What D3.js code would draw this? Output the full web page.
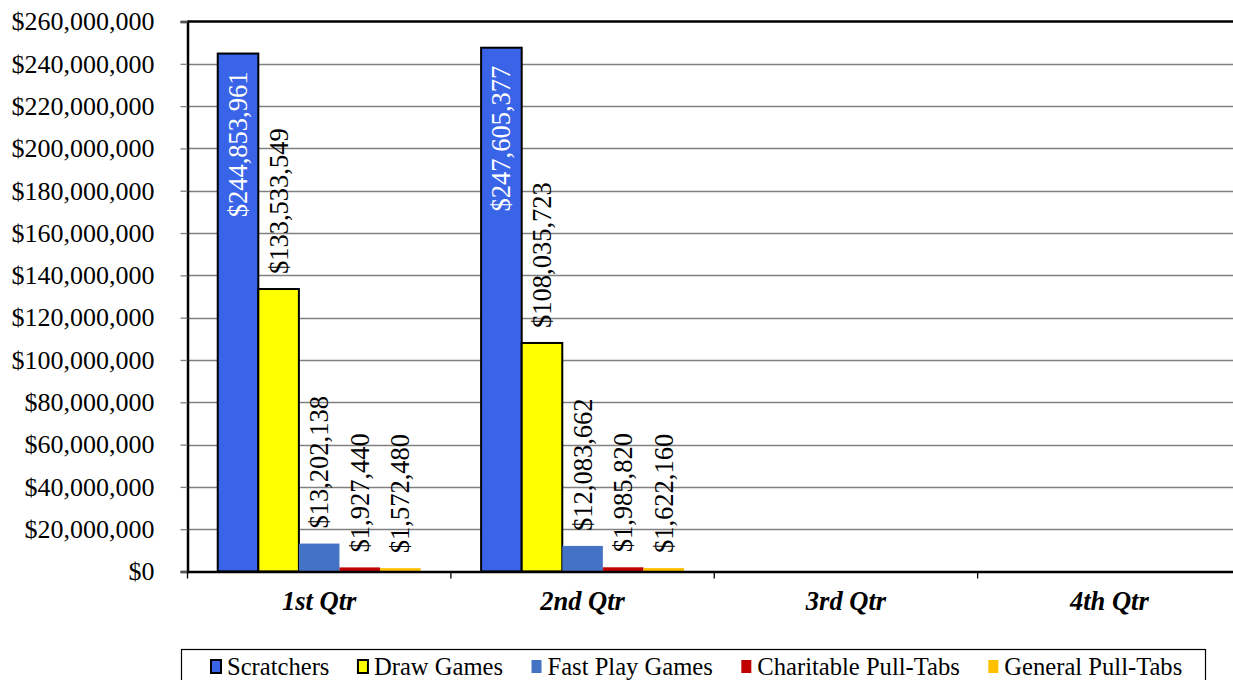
<!DOCTYPE html>
<html>
<head>
<meta charset="utf-8">
<script src="https://cdn.jsdelivr.net/npm/d3@7"></script>
<style>
  html, body { margin: 0; padding: 0; background: #fff; }
  svg { display: block; }
</style>
</head>
<body>
<svg id="chart" width="1233" height="680"></svg>
<script>
// Quarterly sales by product line
const quarters = ["1st Qtr", "2nd Qtr", "3rd Qtr", "4th Qtr"];
const seriesNames = ["Scratchers", "Draw Games", "Fast Play Games", "Charitable Pull-Tabs", "General Pull-Tabs"];
const scratchers = [244853961, 247605377, null, null];
const drawGames = [133533549, 108035723, null, null];
const fastPlay = [13202138, 12083662, null, null];
const charitablePullTabs = [1927440, 1985820, null, null];
const generalPullTabs = [1572480, 1622160, null, null];
const yTicks = [0, 20e6, 40e6, 60e6, 80e6, 100e6, 120e6, 140e6, 160e6, 180e6, 200e6, 220e6, 240e6, 260e6];

const seriesValues = [scratchers, drawGames, fastPlay, charitablePullTabs, generalPullTabs];
const seriesColors = ["#3A64E8", "#FFFF00", "#4472C4", "#C00000", "#FFC000"];
const seriesOutlined = [true, true, false, false, false];

const SERIF = "'Liberation Serif', Tinos, 'Times New Roman', 'DejaVu Serif', serif";
const AXIS_FONT = 26;
const CAT_FONT = 26.5;
const LABEL_FONT = 26.5;
const LEGEND_FONT = 24.6;

const svg = d3.select("#chart");
const plot = { left: 187.5, top: 21.5, right: 1241, bottom: 571.5 };

const x = d3.scaleBand().domain(quarters).range([plot.left, plot.right]).padding(0);
const xInner = d3.scaleBand().domain(seriesNames).range([0, x.bandwidth()])
  .paddingInner(0).paddingOuter(0.745);
const y = d3.scaleLinear().domain([0, 260e6]).range([plot.bottom, plot.top]);
const money = v => "$" + d3.format(",")(v);

// horizontal gridlines
svg.append("g")
  .selectAll("line")
  .data(yTicks.filter(t => t > 0 && t < 260e6))
  .join("line")
  .attr("x1", plot.left).attr("x2", plot.right)
  .attr("y1", d => Math.round(y(d)) + 0.5).attr("y2", d => Math.round(y(d)) + 0.5)
  .attr("stroke", "#808080").attr("stroke-width", 1.3);

// top frame line
svg.append("line")
  .attr("x1", plot.left).attr("x2", plot.right)
  .attr("y1", y(260e6)).attr("y2", y(260e6))
  .attr("stroke", "#000").attr("stroke-width", 2.5);

// bars
const rows = [];
seriesValues.forEach((vals, si) => {
  vals.forEach((v, qi) => {
    if (v != null) rows.push({ q: quarters[qi], s: seriesNames[si], si, v });
  });
});

svg.append("g")
  .selectAll("rect")
  .data(rows)
  .join("rect")
  .attr("x", d => x(d.q) + xInner(d.s))
  .attr("y", d => y(d.v))
  .attr("width", xInner.bandwidth())
  .attr("height", d => y(0) - y(d.v))
  .attr("fill", d => seriesColors[d.si])
  .attr("stroke", d => seriesOutlined[d.si] ? "#000" : "none")
  .attr("stroke-width", 2);

// y axis
const yAxis = svg.append("g")
  .attr("transform", `translate(${plot.left},0)`)
  .call(d3.axisLeft(y).tickValues(yTicks).tickFormat(money).tickSize(7).tickPadding(26));
yAxis.attr("font-family", null).attr("font-size", null);
yAxis.select(".domain").attr("stroke", "#000").attr("stroke-width", 2.5);
yAxis.selectAll(".tick line").attr("stroke", "#808080").attr("stroke-width", 1.3);
yAxis.selectAll("text").attr("fill", "#000")
  .style("font-family", SERIF).style("font-size", AXIS_FONT + "px");

// x axis
const xAxis = svg.append("g")
  .attr("transform", `translate(0,${plot.bottom})`)
  .call(d3.axisBottom(x).tickSize(0).tickPadding(20));
xAxis.attr("font-family", null).attr("font-size", null);
xAxis.select(".domain").attr("stroke", "#000").attr("stroke-width", 2.5);
xAxis.selectAll("text").attr("fill", "#000")
  .style("font-family", SERIF).style("font-size", CAT_FONT + "px")
  .style("font-weight", "bold").style("font-style", "italic");
// category boundary ticks
svg.append("g")
  .selectAll("line")
  .data(quarters)
  .join("line")
  .attr("x1", d => x(d)).attr("x2", d => x(d))
  .attr("y1", plot.bottom).attr("y2", plot.bottom + 7)
  .attr("stroke", "#000").attr("stroke-width", 1.3);

// value labels (rotated)
svg.append("g")
  .selectAll("text")
  .data(rows)
  .join("text")
  .attr("transform", d => {
    const cx = x(d.q) + xInner(d.s) + xInner.bandwidth() / 2;
    const inside = d.si === 0;
    const ty = inside ? y(d.v) + 18 : y(d.v) - 15;
    return `translate(${cx},${ty}) rotate(-90)`;
  })
  .attr("text-anchor", d => d.si === 0 ? "end" : "start")
  .attr("dominant-baseline", "central")
  .style("font-family", SERIF).style("font-size", LABEL_FONT + "px")
  .attr("fill", d => d.si === 0 ? "#fff" : "#000")
  .text(d => money(d.v));

// legend
const legend = svg.append("g");
legend.append("rect")
  .attr("x", 181.5).attr("y", 649.5).attr("width", 1024).attr("height", 60)
  .attr("fill", "#fff").attr("stroke", "#000").attr("stroke-width", 1.2);

let lx = 211;
seriesNames.forEach((name, i) => {
  const g = legend.append("g");
  g.append("rect")
    .attr("x", lx).attr("y", 660).attr("width", 10).attr("height", 13)
    .attr("fill", seriesColors[i])
    .attr("stroke", seriesOutlined[i] ? "#000" : "none")
    .attr("stroke-width", 2);
  const t = g.append("text")
    .attr("x", lx + 16).attr("y", 666.5)
    .attr("dominant-baseline", "central")
    .style("font-family", SERIF).style("font-size", LEGEND_FONT + "px")
    .attr("fill", "#000")
    .text(name);
  lx += 16 + t.node().getComputedTextLength() + 28.5;
});
</script>
</body>
</html>
